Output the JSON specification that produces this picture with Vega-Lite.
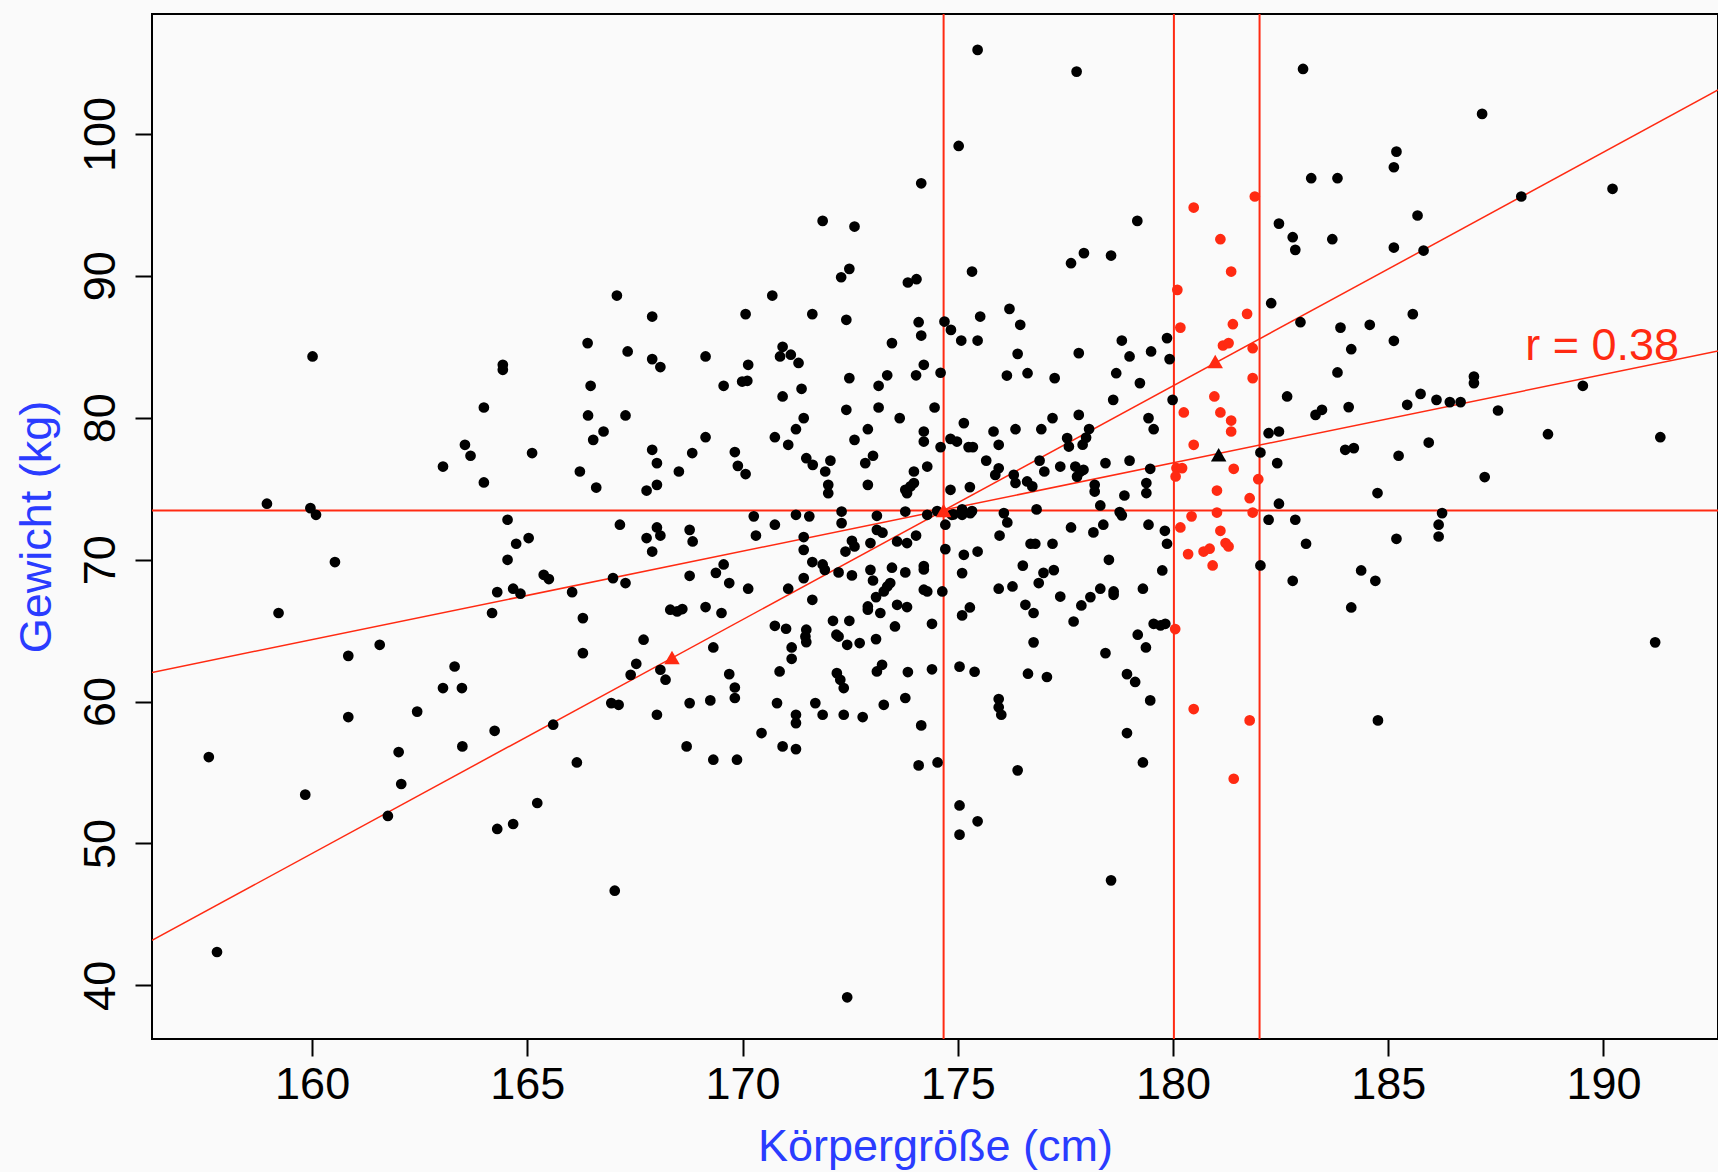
{
  "$schema": "https://vega.github.io/schema/vega-lite/v6.json",
  "width": 1566,
  "height": 1025,
  "autosize": {"type": "none"},
  "padding": {"left": 152, "top": 14, "right": 0, "bottom": 133},
  "background": "#fafafa",
  "config": {
    "view": {"stroke": "#000000", "strokeWidth": 2, "fill": "#fafafa"},
    "axis": {
      "domain": false, "grid": false,
      "tickColor": "#000000", "tickWidth": 2, "tickSize": 17,
      "labelFont": "Liberation Sans", "labelFontSize": 45, "labelColor": "#000000",
      "titleFont": "Liberation Sans", "titleFontSize": 45, "titleFontWeight": "normal", "titleColor": "#2a3cff"
    }
  },
  "datasets": {
    "pts": [
      {"h":174.15,"w":96.52,"g":"a"},{"h":171.86,"w":93.87,"g":"a"},{"h":172.60,"w":93.47,"g":"a"},{"h":172.48,"w":90.49,"g":"a"},{"h":172.29,"w":89.90,"g":"a"},{"h":173.84,"w":89.53,"g":"a"},{"h":174.04,"w":89.76,"g":"a"},{"h":167.08,"w":88.61,"g":"a"},{"h":170.69,"w":88.61,"g":"a"},{"h":167.90,"w":87.13,"g":"a"},{"h":170.07,"w":87.30,"g":"a"},{"h":171.62,"w":87.30,"g":"a"},{"h":172.41,"w":86.90,"g":"a"},{"h":174.09,"w":86.73,"g":"a"},{"h":174.15,"w":85.79,"g":"a"},{"h":166.40,"w":85.26,"g":"a"},{"h":167.33,"w":84.67,"g":"a"},{"h":170.93,"w":85.00,"g":"a"},{"h":171.12,"w":84.44,"g":"a"},{"h":171.30,"w":83.86,"g":"a"},{"h":173.47,"w":85.26,"g":"a"},
      {"h":175.46,"w":105.92,"g":"a"},{"h":177.76,"w":104.39,"g":"a"},{"h":175.02,"w":99.15,"g":"a"},{"h":183.02,"w":104.58,"g":"a"},{"h":183.21,"w":96.88,"g":"a"},{"h":179.17,"w":93.87,"g":"a"},{"h":175.33,"w":90.30,"g":"a"},{"h":177.63,"w":90.89,"g":"a"},{"h":177.93,"w":91.60,"g":"a"},{"h":178.56,"w":91.43,"g":"a"},{"h":182.46,"w":93.68,"g":"a"},{"h":182.78,"w":92.72,"g":"a"},{"h":182.84,"w":91.83,"g":"a"},{"h":182.28,"w":88.07,"g":"a"},{"h":182.96,"w":86.73,"g":"a"},{"h":174.69,"w":86.78,"g":"a"},{"h":174.84,"w":86.19,"g":"a"},{"h":175.52,"w":87.13,"g":"a"},{"h":176.20,"w":87.67,"g":"a"},{"h":176.45,"w":86.55,"g":"a"},{"h":175.08,"w":85.44,"g":"a"},{"h":175.46,"w":85.44,"g":"a"},{"h":176.39,"w":84.50,"g":"a"},{"h":177.81,"w":84.55,"g":"a"},{"h":178.81,"w":85.44,"g":"a"},{"h":179.49,"w":84.67,"g":"a"},{"h":179.86,"w":85.61,"g":"a"},
      {"h":180.48,"w":94.81,"g":"b"},{"h":181.90,"w":95.59,"g":"b"},{"h":181.10,"w":92.58,"g":"b"},{"h":181.35,"w":90.30,"g":"b"},{"h":180.10,"w":89.01,"g":"b"},{"h":180.17,"w":86.35,"g":"b"},{"h":181.39,"w":86.59,"g":"b"},{"h":181.72,"w":87.32,"g":"b"},{"h":181.16,"w":85.09,"g":"b"},{"h":181.29,"w":85.26,"g":"b"},{"h":181.85,"w":84.90,"g":"b"},
      {"h":187.18,"w":101.41,"g":"a"},{"h":185.19,"w":98.75,"g":"a"},{"h":185.13,"w":97.65,"g":"a"},{"h":183.82,"w":96.88,"g":"a"},{"h":190.21,"w":96.13,"g":"a"},{"h":188.09,"w":95.59,"g":"a"},{"h":185.68,"w":94.25,"g":"a"},{"h":183.70,"w":92.58,"g":"a"},{"h":185.13,"w":91.99,"g":"a"},{"h":185.82,"w":91.78,"g":"a"},{"h":185.57,"w":87.30,"g":"a"},{"h":183.89,"w":86.35,"g":"a"},{"h":184.57,"w":86.55,"g":"a"},{"h":185.13,"w":85.42,"g":"a"},{"h":184.14,"w":84.83,"g":"a"},
      {"h":160.01,"w":84.32,"g":"a"},{"h":164.43,"w":83.73,"g":"a"},{"h":164.43,"w":83.38,"g":"a"},{"h":163.99,"w":80.72,"g":"a"},{"h":163.55,"w":78.09,"g":"a"},{"h":163.68,"w":77.32,"g":"a"},{"h":163.04,"w":76.56,"g":"a"},{"h":163.99,"w":75.44,"g":"a"},{"h":165.11,"w":77.51,"g":"a"},{"h":158.95,"w":73.94,"g":"a"},{"h":159.96,"w":73.63,"g":"a"},{"h":160.09,"w":73.16,"g":"a"},{"h":164.54,"w":72.81,"g":"a"},{"h":165.03,"w":71.52,"g":"a"},{"h":164.74,"w":71.12,"g":"a"},{"h":164.54,"w":69.99,"g":"a"},{"h":160.53,"w":69.83,"g":"a"},{"h":164.30,"w":67.71,"g":"a"},{"h":164.67,"w":67.95,"g":"a"},{"h":164.84,"w":67.60,"g":"a"},{"h":164.18,"w":66.24,"g":"a"},{"h":159.22,"w":66.24,"g":"a"},{"h":161.57,"w":64.00,"g":"a"},{"h":160.84,"w":63.22,"g":"a"},{"h":163.31,"w":62.47,"g":"a"},{"h":163.04,"w":60.95,"g":"a"},{"h":163.48,"w":60.95,"g":"a"},{"h":162.44,"w":59.29,"g":"a"},
      {"h":160.84,"w":58.91,"g":"a"},{"h":157.60,"w":56.09,"g":"a"},{"h":164.24,"w":57.94,"g":"a"},{"h":163.49,"w":56.84,"g":"a"},{"h":162.01,"w":56.44,"g":"a"},{"h":162.07,"w":54.19,"g":"a"},{"h":159.84,"w":53.44,"g":"a"},{"h":161.76,"w":51.94,"g":"a"},{"h":164.30,"w":51.02,"g":"a"},{"h":164.67,"w":51.37,"g":"a"},{"h":157.79,"w":42.35,"g":"a"},
      {"h":165.60,"w":58.37,"g":"a"},{"h":168.01,"w":59.07,"g":"a"},{"h":171.24,"w":59.07,"g":"a"},{"h":171.24,"w":58.48,"g":"a"},{"h":171.86,"w":59.07,"g":"a"},{"h":172.35,"w":59.07,"g":"a"},{"h":172.79,"w":58.91,"g":"a"},{"h":174.15,"w":58.32,"g":"a"},{"h":170.44,"w":57.78,"g":"a"},{"h":166.15,"w":55.71,"g":"a"},{"h":168.70,"w":56.84,"g":"a"},{"h":169.32,"w":55.90,"g":"a"},{"h":169.87,"w":55.90,"g":"a"},{"h":170.93,"w":56.84,"g":"a"},{"h":171.24,"w":56.65,"g":"a"},{"h":174.09,"w":55.50,"g":"a"},{"h":165.23,"w":52.85,"g":"a"},{"h":167.03,"w":46.67,"g":"a"},{"h":172.43,"w":39.16,"g":"a"},
      {"h":167.90,"w":84.13,"g":"a"},{"h":168.09,"w":83.57,"g":"a"},{"h":169.14,"w":84.32,"g":"a"},{"h":170.87,"w":84.32,"g":"a"},{"h":170.13,"w":83.73,"g":"a"},{"h":166.47,"w":82.25,"g":"a"},{"h":169.56,"w":82.25,"g":"a"},{"h":169.99,"w":82.55,"g":"a"},{"h":170.11,"w":82.60,"g":"a"},{"h":170.93,"w":81.50,"g":"a"},{"h":171.37,"w":82.04,"g":"a"},{"h":172.48,"w":82.79,"g":"a"},{"h":173.16,"w":82.25,"g":"a"},{"h":173.36,"w":82.99,"g":"a"},{"h":174.03,"w":82.99,"g":"a"},{"h":174.21,"w":83.73,"g":"a"},{"h":173.16,"w":80.72,"g":"a"},{"h":172.41,"w":80.56,"g":"a"},{"h":173.65,"w":79.97,"g":"a"},{"h":166.41,"w":80.16,"g":"a"},{"h":167.28,"w":80.16,"g":"a"},{"h":166.77,"w":79.03,"g":"a"},{"h":166.53,"w":78.44,"g":"a"},{"h":169.14,"w":78.63,"g":"a"},{"h":170.75,"w":78.63,"g":"a"},{"h":171.06,"w":78.09,"g":"a"},{"h":171.24,"w":79.19,"g":"a"},{"h":171.42,"w":79.97,"g":"a"},{"h":172.60,"w":78.44,"g":"a"},{"h":172.91,"w":79.19,"g":"a"},{"h":174.21,"w":79.03,"g":"a"},{"h":174.21,"w":78.32,"g":"a"},{"h":167.90,"w":77.74,"g":"a"},{"h":168.01,"w":76.80,"g":"a"},{"h":168.83,"w":77.51,"g":"a"},{"h":169.82,"w":77.58,"g":"a"},{"h":169.89,"w":76.61,"g":"a"},{"h":170.07,"w":76.03,"g":"a"},{"h":166.22,"w":76.21,"g":"a"},{"h":168.52,"w":76.21,"g":"a"},{"h":166.60,"w":75.08,"g":"a"},{"h":167.77,"w":74.87,"g":"a"},{"h":168.01,"w":75.27,"g":"a"},{"h":171.48,"w":77.15,"g":"a"},{"h":171.63,"w":76.68,"g":"a"},{"h":172.04,"w":76.98,"g":"a"},{"h":171.92,"w":76.21,"g":"a"},{"h":171.99,"w":75.27,"g":"a"},{"h":171.99,"w":74.68,"g":"a"},{"h":172.85,"w":76.80,"g":"a"},{"h":173.03,"w":77.32,"g":"a"},{"h":172.91,"w":75.27,"g":"a"},{"h":173.98,"w":76.21,"g":"a"},{"h":173.78,"w":74.92,"g":"a"},{"h":173.90,"w":75.16,"g":"a"},{"h":173.98,"w":75.40,"g":"a"},{"h":173.82,"w":74.68,"g":"a"},
      {"h":172.30,"w":73.39,"g":"a"},{"h":172.30,"w":72.57,"g":"a"},{"h":173.78,"w":73.39,"g":"a"},{"h":173.12,"w":73.09,"g":"a"},{"h":173.12,"w":72.10,"g":"a"},{"h":173.25,"w":71.90,"g":"a"},{"h":170.26,"w":73.05,"g":"a"},{"h":171.24,"w":73.16,"g":"a"},{"h":171.55,"w":73.05,"g":"a"},{"h":170.75,"w":72.46,"g":"a"},{"h":170.31,"w":71.70,"g":"a"},{"h":167.15,"w":72.46,"g":"a"},{"h":168.01,"w":72.27,"g":"a"},{"h":168.09,"w":71.70,"g":"a"},{"h":167.77,"w":71.52,"g":"a"},{"h":167.90,"w":70.57,"g":"a"},{"h":168.77,"w":72.10,"g":"a"},{"h":168.84,"w":71.28,"g":"a"},{"h":171.42,"w":71.59,"g":"a"},{"h":171.42,"w":70.69,"g":"a"},{"h":172.54,"w":71.33,"g":"a"},{"h":172.39,"w":70.57,"g":"a"},{"h":172.60,"w":70.93,"g":"a"},{"h":172.97,"w":71.17,"g":"a"},{"h":173.59,"w":71.28,"g":"a"},{"h":173.82,"w":71.17,"g":"a"},{"h":174.03,"w":71.70,"g":"a"},{"h":174.21,"w":69.55,"g":"a"},{"h":174.21,"w":69.31,"g":"a"},{"h":173.47,"w":69.43,"g":"a"},{"h":169.56,"w":69.66,"g":"a"},{"h":169.38,"w":69.07,"g":"a"},{"h":171.62,"w":69.83,"g":"a"},{"h":171.86,"w":69.66,"g":"a"},{"h":171.91,"w":69.28,"g":"a"},{"h":172.23,"w":69.10,"g":"a"},{"h":172.54,"w":68.89,"g":"a"},{"h":172.97,"w":69.28,"g":"a"},{"h":173.03,"w":68.53,"g":"a"},{"h":173.78,"w":69.10,"g":"a"},{"h":171.42,"w":68.70,"g":"a"},{"h":165.38,"w":68.93,"g":"a"},{"h":165.50,"w":68.63,"g":"a"},{"h":166.99,"w":68.70,"g":"a"},{"h":167.28,"w":68.35,"g":"a"},{"h":166.04,"w":67.71,"g":"a"},{"h":168.77,"w":68.86,"g":"a"},{"h":169.69,"w":68.35,"g":"a"},{"h":170.13,"w":67.95,"g":"a"},{"h":171.06,"w":67.95,"g":"a"},{"h":171.62,"w":67.17,"g":"a"},{"h":173.36,"w":68.11,"g":"a"},{"h":173.28,"w":67.76,"g":"a"},{"h":173.43,"w":68.35,"g":"a"},{"h":173.10,"w":67.36,"g":"a"},{"h":172.91,"w":66.70,"g":"a"},{"h":172.91,"w":66.47,"g":"a"},{"h":173.20,"w":66.24,"g":"a"},{"h":173.59,"w":66.82,"g":"a"},{"h":173.82,"w":66.66,"g":"a"},{"h":174.21,"w":67.88,"g":"a"},{"h":168.32,"w":66.47,"g":"a"},{"h":168.48,"w":66.35,"g":"a"},{"h":168.60,"w":66.52,"g":"a"},{"h":169.14,"w":66.66,"g":"a"},{"h":169.51,"w":66.24,"g":"a"},{"h":166.29,"w":65.88,"g":"a"},{"h":170.75,"w":65.34,"g":"a"},{"h":171.01,"w":65.13,"g":"a"},{"h":171.48,"w":65.06,"g":"a"},{"h":171.46,"w":64.58,"g":"a"},{"h":171.48,"w":64.19,"g":"a"},{"h":172.10,"w":65.69,"g":"a"},{"h":172.48,"w":65.69,"g":"a"},{"h":172.18,"w":64.71,"g":"a"},{"h":172.23,"w":64.58,"g":"a"},{"h":172.43,"w":64.00,"g":"a"},{"h":172.72,"w":64.12,"g":"a"},{"h":173.10,"w":64.40,"g":"a"},{"h":173.54,"w":65.29,"g":"a"},{"h":167.70,"w":64.36,"g":"a"},{"h":166.29,"w":63.41,"g":"a"},{"h":169.32,"w":63.81,"g":"a"},{"h":171.14,"w":63.81,"g":"a"},{"h":171.14,"w":63.01,"g":"a"},{"h":167.53,"w":62.66,"g":"a"},{"h":167.40,"w":61.88,"g":"a"},{"h":168.09,"w":62.24,"g":"a"},{"h":168.21,"w":61.54,"g":"a"},{"h":169.69,"w":61.93,"g":"a"},{"h":169.82,"w":60.99,"g":"a"},{"h":169.82,"w":60.25,"g":"a"},{"h":170.86,"w":62.12,"g":"a"},{"h":172.19,"w":62.00,"g":"a"},{"h":172.27,"w":61.53,"g":"a"},{"h":172.35,"w":60.95,"g":"a"},{"h":173.12,"w":62.12,"g":"a"},{"h":173.24,"w":62.59,"g":"a"},{"h":173.84,"w":62.08,"g":"a"},{"h":173.78,"w":60.25,"g":"a"},{"h":168.77,"w":59.89,"g":"a"},{"h":169.25,"w":60.08,"g":"a"},{"h":166.95,"w":59.89,"g":"a"},{"h":167.12,"w":59.77,"g":"a"},{"h":170.80,"w":59.89,"g":"a"},{"h":171.69,"w":59.89,"g":"a"},{"h":173.28,"w":59.77,"g":"a"},
      {"h":178.99,"w":84.32,"g":"a"},{"h":179.92,"w":84.13,"g":"a"},{"h":174.60,"w":83.17,"g":"a"},{"h":176.14,"w":82.97,"g":"a"},{"h":176.62,"w":83.14,"g":"a"},{"h":177.25,"w":82.79,"g":"a"},{"h":178.68,"w":83.14,"g":"a"},{"h":179.23,"w":82.44,"g":"a"},{"h":178.61,"w":81.26,"g":"a"},{"h":179.99,"w":81.26,"g":"a"},{"h":182.65,"w":81.50,"g":"a"},{"h":174.46,"w":80.72,"g":"a"},{"h":175.14,"w":79.62,"g":"a"},{"h":175.83,"w":79.03,"g":"a"},{"h":176.34,"w":79.19,"g":"a"},{"h":176.94,"w":79.19,"g":"a"},{"h":177.20,"w":79.97,"g":"a"},{"h":177.81,"w":80.20,"g":"a"},{"h":179.43,"w":79.97,"g":"a"},{"h":179.55,"w":79.19,"g":"a"},{"h":174.83,"w":78.51,"g":"a"},{"h":174.98,"w":78.32,"g":"a"},{"h":175.25,"w":77.93,"g":"a"},{"h":175.35,"w":77.93,"g":"a"},{"h":175.95,"w":78.09,"g":"a"},{"h":174.60,"w":77.93,"g":"a"},{"h":177.54,"w":78.56,"g":"a"},{"h":177.58,"w":77.97,"g":"a"},{"h":178.05,"w":79.20,"g":"a"},{"h":177.98,"w":78.60,"g":"a"},{"h":177.90,"w":78.10,"g":"a"},{"h":175.66,"w":76.98,"g":"a"},{"h":175.95,"w":76.44,"g":"a"},{"h":175.87,"w":75.97,"g":"a"},{"h":174.29,"w":76.56,"g":"a"},{"h":176.30,"w":75.97,"g":"a"},{"h":176.34,"w":75.40,"g":"a"},{"h":176.61,"w":75.51,"g":"a"},{"h":176.73,"w":75.16,"g":"a"},{"h":176.90,"w":76.98,"g":"a"},{"h":177.01,"w":76.21,"g":"a"},{"h":177.38,"w":76.56,"g":"a"},{"h":177.73,"w":76.56,"g":"a"},{"h":177.85,"w":76.21,"g":"a"},{"h":177.77,"w":75.85,"g":"a"},{"h":177.92,"w":76.33,"g":"a"},{"h":178.43,"w":76.80,"g":"a"},{"h":178.99,"w":76.98,"g":"a"},{"h":179.47,"w":76.40,"g":"a"},{"h":179.38,"w":75.40,"g":"a"},{"h":179.38,"w":74.69,"g":"a"},{"h":178.18,"w":75.27,"g":"a"},{"h":178.18,"w":74.80,"g":"a"},{"h":178.87,"w":74.52,"g":"a"},{"h":182.42,"w":76.80,"g":"a"},{"h":182.03,"w":77.55,"g":"a"},{"h":182.22,"w":78.91,"g":"a"},{"h":182.46,"w":79.03,"g":"a"},{"h":174.83,"w":74.92,"g":"a"},{"h":175.28,"w":75.11,"g":"a"},{"h":174.52,"w":73.42,"g":"a"},{"h":174.90,"w":73.19,"g":"a"},{"h":175.10,"w":73.54,"g":"a"},{"h":175.33,"w":73.42,"g":"a"},{"h":174.29,"w":73.16,"g":"a"},{"h":174.86,"w":73.16,"g":"a"},{"h":175.10,"w":73.16,"g":"a"},{"h":175.29,"w":73.28,"g":"a"},{"h":174.71,"w":72.46,"g":"a"},{"h":176.83,"w":73.54,"g":"a"},{"h":176.07,"w":73.28,"g":"a"},{"h":176.15,"w":72.62,"g":"a"},{"h":175.97,"w":71.70,"g":"a"},{"h":178.31,"w":73.82,"g":"a"},{"h":178.76,"w":73.35,"g":"a"},{"h":178.81,"w":73.12,"g":"a"},{"h":182.46,"w":73.94,"g":"a"},{"h":177.63,"w":72.27,"g":"a"},{"h":178.38,"w":72.46,"g":"a"},{"h":178.15,"w":71.92,"g":"a"},{"h":179.43,"w":72.46,"g":"a"},{"h":179.81,"w":72.03,"g":"a"},{"h":179.86,"w":71.12,"g":"a"},{"h":182.22,"w":72.81,"g":"a"},{"h":182.84,"w":72.81,"g":"a"},{"h":183.09,"w":71.12,"g":"a"},{"h":176.69,"w":71.12,"g":"a"},{"h":176.80,"w":71.12,"g":"a"},{"h":177.20,"w":71.12,"g":"a"},{"h":174.71,"w":70.74,"g":"a"},{"h":175.14,"w":70.34,"g":"a"},{"h":175.46,"w":70.57,"g":"a"},{"h":176.51,"w":69.58,"g":"a"},{"h":176.99,"w":69.07,"g":"a"},{"h":177.23,"w":69.26,"g":"a"},{"h":178.51,"w":69.99,"g":"a"},{"h":175.10,"w":69.05,"g":"a"},{"h":182.03,"w":69.59,"g":"a"},{"h":179.75,"w":69.24,"g":"a"},{"h":182.78,"w":68.51,"g":"a"},{"h":174.29,"w":67.76,"g":"a"},{"h":174.64,"w":67.76,"g":"a"},{"h":175.95,"w":67.95,"g":"a"},{"h":176.27,"w":68.11,"g":"a"},{"h":176.88,"w":68.35,"g":"a"},{"h":177.38,"w":67.40,"g":"a"},{"h":177.87,"w":66.77,"g":"a"},{"h":178.08,"w":67.36,"g":"a"},{"h":178.31,"w":67.95,"g":"a"},{"h":178.62,"w":67.76,"g":"a"},{"h":178.62,"w":67.52,"g":"a"},{"h":179.30,"w":67.95,"g":"a"},{"h":175.28,"w":66.63,"g":"a"},{"h":175.10,"w":66.07,"g":"a"},{"h":176.57,"w":66.82,"g":"a"},{"h":176.76,"w":66.24,"g":"a"},{"h":174.40,"w":65.48,"g":"a"},{"h":177.69,"w":65.64,"g":"a"},{"h":179.55,"w":65.48,"g":"a"},{"h":179.71,"w":65.36,"g":"a"},{"h":179.82,"w":65.48,"g":"a"},{"h":179.18,"w":64.71,"g":"a"},{"h":179.37,"w":63.81,"g":"a"},{"h":176.76,"w":64.17,"g":"a"},{"h":178.43,"w":63.41,"g":"a"},{"h":174.40,"w":62.27,"g":"a"},{"h":175.04,"w":62.46,"g":"a"},{"h":175.39,"w":62.10,"g":"a"},{"h":176.63,"w":61.96,"g":"a"},{"h":177.07,"w":61.73,"g":"a"},{"h":178.93,"w":61.93,"g":"a"},{"h":179.12,"w":61.38,"g":"a"},{"h":179.47,"w":60.08,"g":"a"},{"h":175.95,"w":60.18,"g":"a"},{"h":175.95,"w":59.60,"g":"a"},
      {"h":181.85,"w":82.79,"g":"b"},{"h":180.96,"w":81.50,"g":"b"},{"h":180.25,"w":80.37,"g":"b"},{"h":181.10,"w":80.37,"g":"b"},{"h":181.35,"w":79.80,"g":"b"},{"h":181.35,"w":79.03,"g":"b"},{"h":180.48,"w":78.09,"g":"b"},{"h":180.08,"w":76.45,"g":"b"},{"h":180.21,"w":76.45,"g":"b"},{"h":180.06,"w":75.86,"g":"b"},{"h":181.41,"w":76.40,"g":"b"},{"h":181.98,"w":75.67,"g":"b"},{"h":181.02,"w":74.87,"g":"b"},{"h":181.78,"w":74.33,"g":"b"},{"h":181.02,"w":73.32,"g":"b"},{"h":181.85,"w":73.32,"g":"b"},{"h":180.43,"w":73.05,"g":"b"},{"h":180.17,"w":72.27,"g":"b"},{"h":181.10,"w":72.03,"g":"b"},{"h":180.35,"w":70.39,"g":"b"},{"h":180.71,"w":70.57,"g":"b"},{"h":180.85,"w":70.77,"g":"b"},{"h":181.22,"w":71.17,"g":"b"},{"h":181.29,"w":70.93,"g":"b"},{"h":180.92,"w":69.59,"g":"b"},{"h":180.05,"w":65.11,"g":"b"},
      {"h":183.82,"w":83.19,"g":"a"},{"h":183.31,"w":80.20,"g":"a"},{"h":183.46,"w":80.56,"g":"a"},{"h":184.08,"w":80.75,"g":"a"},{"h":184.00,"w":77.74,"g":"a"},{"h":184.20,"w":77.86,"g":"a"},{"h":184.75,"w":74.69,"g":"a"},{"h":185.44,"w":80.91,"g":"a"},{"h":185.75,"w":81.68,"g":"a"},{"h":186.12,"w":81.26,"g":"a"},{"h":186.43,"w":81.10,"g":"a"},{"h":186.68,"w":81.10,"g":"a"},{"h":186.99,"w":82.90,"g":"a"},{"h":186.99,"w":82.44,"g":"a"},{"h":187.55,"w":80.51,"g":"a"},{"h":185.94,"w":78.25,"g":"a"},{"h":185.24,"w":77.32,"g":"a"},{"h":187.24,"w":75.82,"g":"a"},{"h":189.52,"w":82.25,"g":"a"},{"h":188.71,"w":78.84,"g":"a"},{"h":191.32,"w":78.63,"g":"a"},{"h":186.25,"w":73.28,"g":"a"},{"h":186.17,"w":72.46,"g":"a"},{"h":186.17,"w":71.63,"g":"a"},{"h":185.19,"w":71.47,"g":"a"},{"h":184.37,"w":69.24,"g":"a"},{"h":184.70,"w":68.51,"g":"a"},{"h":184.14,"w":66.63,"g":"a"},{"h":191.20,"w":64.17,"g":"a"},
      {"h":176.01,"w":59.07,"g":"a"},{"h":174.53,"w":55.71,"g":"a"},{"h":176.39,"w":55.15,"g":"a"},{"h":178.93,"w":57.78,"g":"a"},{"h":179.30,"w":55.71,"g":"a"},{"h":175.04,"w":52.68,"g":"a"},{"h":175.46,"w":51.56,"g":"a"},{"h":175.04,"w":50.62,"g":"a"},{"h":178.56,"w":47.40,"g":"a"},
      {"h":180.48,"w":59.47,"g":"b"},{"h":181.78,"w":58.67,"g":"b"},{"h":181.41,"w":54.56,"g":"b"},
      {"h":184.76,"w":58.67,"g":"a"}
    ],
    "marks": [
      {"h":168.36,"w":63.10,"g":"b"},{"h":174.67,"w":73.46,"g":"b"},{"h":180.98,"w":83.96,"g":"b"},{"h":181.06,"w":77.39,"g":"a"}
    ]
  },
  "layer": [
    {
      "data": {"values": [{"h": 174.67}, {"h": 180.02}, {"h": 182.01}]},
      "mark": {"type": "rule", "color": "#ff2a12", "strokeWidth": 2, "clip": true},
      "encoding": {
        "x": {"field": "h", "type": "quantitative", "scale": {"domain": [156.28, 192.66], "nice": false, "zero": false},
          "axis": {"values": [160, 165, 170, 175, 180, 185, 190], "labelPadding": 6, "title": "Körpergröße (cm)", "titlePadding": 17}}
      }
    },
    {
      "data": {"values": [{"w": 73.46}]},
      "mark": {"type": "rule", "color": "#ff2a12", "strokeWidth": 2, "clip": true},
      "encoding": {
        "y": {"field": "w", "type": "quantitative", "scale": {"domain": [36.22, 108.45], "nice": false, "zero": false},
          "axis": {"values": [40, 50, 60, 70, 80, 90, 100], "labelAngle": -90, "labelAlign": "center", "labelBaseline": "bottom", "labelPadding": 12, "title": "Gewicht (kg)", "titlePadding": 19}}
      }
    },
    {
      "data": {"values": [
        {"x1": 156.28, "y1": 43.17, "x2": 192.66, "y2": 103.10, "line": "SD-Linie"},
        {"x1": 156.28, "y1": 62.05, "x2": 192.66, "y2": 84.70, "line": "Regression"}
      ]},
      "mark": {"type": "rule", "color": "#ff2a12", "strokeWidth": 1.5, "clip": true},
      "encoding": {
        "x": {"field": "x1", "type": "quantitative"},
        "y": {"field": "y1", "type": "quantitative"},
        "x2": {"field": "x2"},
        "y2": {"field": "y2"}
      }
    },
    {
      "data": {"name": "pts"},
      "mark": {"type": "circle", "size": 115, "opacity": 1, "clip": true},
      "encoding": {
        "x": {"field": "h", "type": "quantitative"},
        "y": {"field": "w", "type": "quantitative"},
        "color": {"field": "g", "type": "nominal", "scale": {"domain": ["a", "b"], "range": ["#000000", "#ff2a12"]}, "legend": null}
      }
    },
    {
      "data": {"name": "marks"},
      "mark": {"type": "point", "shape": "triangle-up", "filled": true, "size": 240, "opacity": 1, "clip": true},
      "encoding": {
        "x": {"field": "h", "type": "quantitative"},
        "y": {"field": "w", "type": "quantitative"},
        "color": {"field": "g", "type": "nominal", "legend": null}
      }
    },
    {
      "data": {"values": [{"h": 188.18, "w": 84.1, "label": "r = 0.38"}]},
      "mark": {"type": "text", "align": "left", "baseline": "alphabetic", "font": "Liberation Sans", "fontSize": 45, "color": "#ff2a12"},
      "encoding": {
        "x": {"field": "h", "type": "quantitative"},
        "y": {"field": "w", "type": "quantitative"},
        "text": {"field": "label"}
      }
    }
  ]
}
